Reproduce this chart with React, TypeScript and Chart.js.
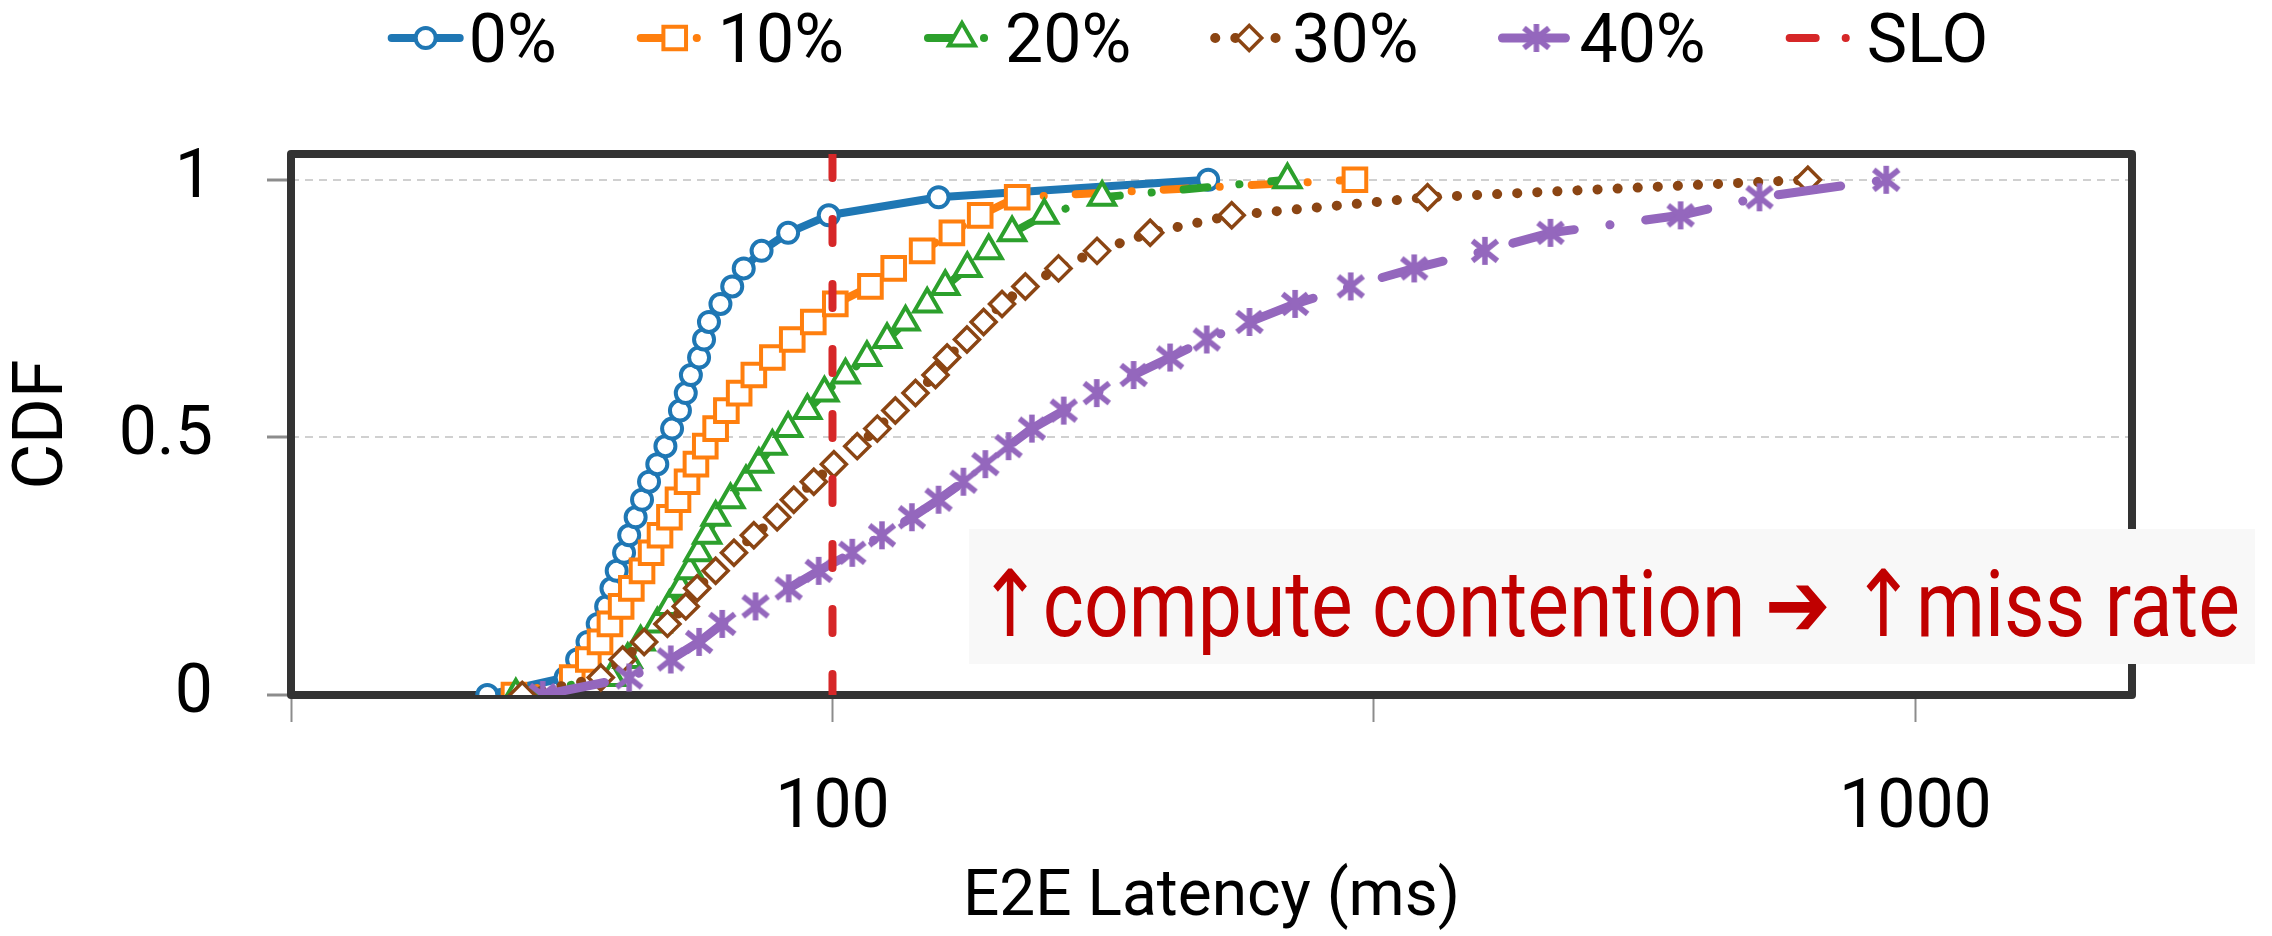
import React, { useEffect, useRef } from 'react';
import { Chart, registerables } from 'chart.js';

Chart.register(...registerables);

// ---------- data ----------
const seriesLabels = ['0%', '10%', '20%', '30%', '40%'];
const cdfLevels = [0, 0.034, 0.069, 0.103, 0.138, 0.172, 0.207, 0.241, 0.276, 0.31, 0.345, 0.379, 0.414, 0.448, 0.483, 0.517, 0.552, 0.586, 0.621, 0.655, 0.69, 0.724, 0.759, 0.793, 0.828, 0.862, 0.897, 0.931, 0.966, 1];
const latency0 = [48.0, 56.7, 58.1, 59.4, 60.7, 61.8, 62.5, 63.2, 64.2, 64.9, 65.8, 66.7, 67.7, 68.9, 70.1, 71.1, 72.3, 73.2, 74.0, 75.3, 76.1, 76.9, 78.8, 80.8, 82.8, 86.0, 91.0, 99.2, 125.3, 222.3];
const latency10 = [50.8, 57.5, 59.5, 61.0, 62.3, 63.8, 65.2, 66.7, 68.0, 69.3, 70.7, 72.0, 73.4, 74.8, 76.3, 78.0, 79.8, 82.0, 84.6, 88.0, 91.8, 96.0, 100.6, 108.4, 113.9, 121.0, 128.9, 136.9, 148.1, 303.7];
const latency20 = [51.0, 62.5, 64.7, 66.5, 68.9, 70.7, 72.4, 73.8, 75.2, 76.6, 78.0, 80.5, 83.2, 85.5, 88.0, 91.0, 94.8, 98.3, 102.8, 107.6, 112.3, 116.8, 122.3, 127.1, 133.2, 139.4, 146.5, 156.9, 177.4, 263.1];
const latency30 = [51.7, 61.1, 64.0, 67.0, 70.4, 73.2, 75.0, 78.0, 81.1, 84.6, 88.9, 92.1, 96.1, 100.3, 105.4, 110.0, 114.3, 119.3, 124.5, 127.6, 133.1, 137.9, 143.4, 150.7, 161.7, 175.5, 196.5, 233.7, 354.4, 795.6];
const latency40 = [54.0, 64.9, 70.9, 75.3, 79.1, 84.9, 91.1, 97.1, 104.3, 111.1, 118.4, 125.3, 132.1, 138.4, 145.4, 152.8, 163.5, 175.4, 189.7, 205.0, 221.6, 242.7, 267.4, 301.0, 344.5, 400.4, 460.3, 607.0, 717.8, 939.8];
const sloLabel = 'SLO';
const sloLatency = 100;
const sloSpan = [1.05, 0];
const xTickValues = [31.62, 100, 316.2, 1000];
const xTickLabels = ['', '100', '', '1000'];
const yTickValues = [0, 0.5, 1];
const yTickLabels = ['0', '0.5', '1'];
const xAxisTitle = 'E2E Latency (ms)';
const yAxisTitle = 'CDF';
const annotationText = '\u2191compute contention \u2794 \u2191miss rate';

// ---------- styling ----------
const FONT = "'Roboto', 'DejaVu Sans', sans-serif";
const W = 2272;
const H = 936;

function makeStar(color: string) {
  const c = document.createElement('canvas');
  c.width = 32;
  c.height = 32;
  const g = c.getContext('2d')!;
  g.strokeStyle = color;
  g.lineWidth = 5.5;
  g.beginPath();
  g.moveTo(16, 2); g.lineTo(16, 30);
  g.moveTo(3.5, 6); g.lineTo(28.5, 26);
  g.moveTo(28.5, 6); g.lineTo(3.5, 26);
  g.stroke();
  return c;
}

function drawMarker(ctx: CanvasRenderingContext2D, ds: any, x: number, y: number) {
  const ps = ds.pointStyle;
  const r = ds.pointRadius;
  if (!r) return;
  if (typeof ps !== 'string') {
    ctx.drawImage(ps, x - ps.width / 2, y - ps.height / 2);
    return;
  }
  ctx.save();
  ctx.lineWidth = ds.pointBorderWidth;
  ctx.strokeStyle = ds.borderColor;
  ctx.fillStyle = '#ffffff';
  ctx.setLineDash([]);
  ctx.beginPath();
  if (ps === 'circle') {
    ctx.arc(x, y, r, 0, Math.PI * 2);
  } else if (ps === 'rect') {
    const s = r * Math.SQRT1_2;
    ctx.rect(x - s, y - s, 2 * s, 2 * s);
  } else if (ps === 'triangle') {
    let a = 0;
    ctx.moveTo(x + Math.sin(a) * r, y - Math.cos(a) * r);
    a += (2 * Math.PI) / 3;
    ctx.lineTo(x + Math.sin(a) * r, y - Math.cos(a) * r);
    a += (2 * Math.PI) / 3;
    ctx.lineTo(x + Math.sin(a) * r, y - Math.cos(a) * r);
    ctx.closePath();
  } else if (ps === 'rectRot') {
    ctx.moveTo(x - r, y);
    ctx.lineTo(x, y - r);
    ctx.lineTo(x + r, y);
    ctx.lineTo(x, y + r);
    ctx.closePath();
  }
  ctx.fill();
  ctx.stroke();
  ctx.restore();
}

const framePlugin = {
  id: 'frame',
  beforeDatasetsDraw(chart: any) {
    const { ctx, chartArea: a } = chart;
    ctx.save();
    ctx.strokeStyle = '#333333';
    ctx.lineWidth = 8;
    ctx.lineJoin = 'round';
    ctx.strokeRect(a.left, a.top, a.right - a.left, a.bottom - a.top);
    ctx.restore();
  },
};

const legendPlugin = {
  id: 'customLegend',
  afterDraw(chart: any) {
    const ctx: CanvasRenderingContext2D = chart.ctx;
    const items = chart.data.datasets;
    const sampleW = 76;
    const gap = 5;
    const spacing = 80;
    const centerX = 1188;
    const lineY = 38;
    const baseY = 62;
    ctx.save();
    ctx.font = `68px ${FONT}`;
    const widths = items.map((d: any) => ctx.measureText(d.label).width);
    const total = widths.reduce((s: number, w: number) => s + w, 0) + items.length * (sampleW + gap) + (items.length - 1) * spacing;
    let x = centerX - total / 2;
    items.forEach((d: any, i: number) => {
      ctx.save();
      ctx.strokeStyle = d.borderColor;
      ctx.lineWidth = d.borderWidth;
      ctx.lineCap = 'round';
      ctx.setLineDash(d.legendDash || d.borderDash || []);
      ctx.beginPath();
      ctx.moveTo(x + 4, lineY);
      ctx.lineTo(x + sampleW - 4, lineY);
      ctx.stroke();
      ctx.restore();
      drawMarker(ctx, d, x + sampleW / 2, lineY);
      ctx.fillStyle = '#000000';
      ctx.textBaseline = 'alphabetic';
      ctx.textAlign = 'left';
      ctx.fillText(d.label, x + sampleW + gap, baseY);
      x += sampleW + gap + widths[i] + spacing;
    });
    ctx.restore();
  },
};

const annotationPlugin = {
  id: 'annotationBox',
  afterDraw(chart: any) {
    const ctx: CanvasRenderingContext2D = chart.ctx;
    const boxL = 969, boxT = 529, boxR = 2255, boxB = 664;
    const textL = 977, textR = 2240, baseline = 636;
    ctx.save();
    ctx.fillStyle = '#f8f8f8';
    ctx.fillRect(boxL, boxT, boxR - boxL, boxB - boxT);
    ctx.fillStyle = '#c00000';
    ctx.font = `92px ${FONT}`;
    ctx.textBaseline = 'alphabetic';
    ctx.textAlign = 'left';
    const w = ctx.measureText(annotationText).width;
    const sx = Math.min(1, (textR - textL) / w);
    ctx.translate(textL, baseline);
    ctx.scale(sx, 1);
    ctx.fillText(annotationText, 0, 0);
    ctx.restore();
  },
};

export default function App() {
  const ref = useRef<HTMLCanvasElement>(null);

  useEffect(() => {
    document.body.style.margin = '0';
    const canvas = ref.current!;
    const star = makeStar('#9467bd');

    const toPoints = (xs: number[]) => xs.map((v, i) => ({ x: v, y: cdfLevels[i] }));

    const styles = [
      { color: '#1f77b4', dash: [], width: 8, ps: 'circle', r: 10, pbw: 4 },
      { color: '#ff7f0e', dash: [24, 32, 0.1, 32], width: 8, ps: 'rect', r: 16, pbw: 4 },
      { color: '#2ca02c', dash: [24, 32, 0.1, 32], width: 8, ps: 'triangle', r: 15, pbw: 4 },
      { color: '#8b4513', dash: [0.1, 20], width: 10, ps: 'rectRot', r: 12.5, pbw: 3.5 },
      { color: '#9467bd', dash: [63, 36, 0.1, 36], width: 9, ps: star as any, r: 15, pbw: 4 },
    ];
    const series = [latency0, latency10, latency20, latency30, latency40];

    const datasets: any[] = series.map((s, i) => ({
      label: seriesLabels[i],
      data: toPoints(s),
      borderColor: styles[i].color,
      backgroundColor: '#ffffff',
      borderWidth: styles[i].width,
      borderDash: styles[i].dash,
      borderCapStyle: 'round',
      borderJoinStyle: 'round',
      pointStyle: styles[i].ps,
      pointRadius: styles[i].r,
      pointBorderWidth: styles[i].pbw,
      pointBorderColor: styles[i].color,
      pointBackgroundColor: '#ffffff',
      tension: 0,
      order: 6 - i,
    }));
    datasets.push({
      label: sloLabel,
      data: sloSpan.map((y) => ({ x: sloLatency, y })),
      borderColor: '#d62728',
      backgroundColor: '#d62728',
      borderWidth: 8,
      borderDash: [24, 41],
      legendDash: [26, 30, 0.1, 30],
      borderCapStyle: 'round',
      pointRadius: 0,
      tension: 0,
      order: 0,
    });

    const chart = new Chart(canvas, {
      type: 'line',
      data: { datasets },
      options: {
        animation: false,
        responsive: false,
        maintainAspectRatio: false,
        devicePixelRatio: 1,
        layout: { padding: { top: 154, right: 140, left: 0, bottom: 0 } },
        plugins: { legend: { display: false }, tooltip: { enabled: false } },
        scales: {
          x: {
            type: 'logarithmic',
            min: 31.62,
            max: 1585,
            afterBuildTicks: (s: any) => {
              s.ticks = xTickValues.map((v) => ({ value: v }));
            },
            afterFit: (s: any) => {
              s.height = 241;
            },
            ticks: {
              callback: (_v: any, i: number) => xTickLabels[i],
              font: { family: FONT, size: 68 },
              color: '#000000',
              padding: 47,
              maxRotation: 0,
              autoSkip: false,
            },
            grid: {
              drawOnChartArea: false,
              drawTicks: true,
              tickLength: 27,
              tickColor: '#8c8c8c',
              tickWidth: 2,
            },
            border: { display: false },
            title: {
              display: true,
              text: xAxisTitle,
              color: '#000000',
              font: { family: FONT, size: 64, lineHeight: 1 },
              padding: { top: 0, bottom: 5 },
            },
          },
          y: {
            type: 'linear',
            min: 0,
            max: 1.05,
            afterBuildTicks: (s: any) => {
              s.ticks = yTickValues.map((v) => ({ value: v }));
            },
            afterFit: (s: any) => {
              s.width = 291;
            },
            ticks: {
              callback: (_v: any, i: number) => yTickLabels[i],
              font: { family: FONT, size: 68 },
              color: '#000000',
              padding: 54,
            },
            grid: {
              color: (c: any) => (c.tick && c.tick.value === 0 ? 'rgba(0,0,0,0)' : '#d0d0d0'),
              lineWidth: 2,
              tickLength: 24,
              tickColor: '#8c8c8c',
              tickWidth: 3,
            },
            border: { display: false, dash: [8, 6] },
            title: {
              display: true,
              text: yAxisTitle,
              color: '#000000',
              font: { family: FONT, size: 70, lineHeight: 1 },
              padding: { top: 9, bottom: 0 },
            },
          },
        },
      },
      plugins: [framePlugin, legendPlugin, annotationPlugin],
    } as any);

    return () => chart.destroy();
  }, []);

  return (
    <div style={{ width: W, height: H }}>
      <canvas ref={ref} width={W} height={H} style={{ display: 'block', width: W, height: H }} />
    </div>
  );
}
